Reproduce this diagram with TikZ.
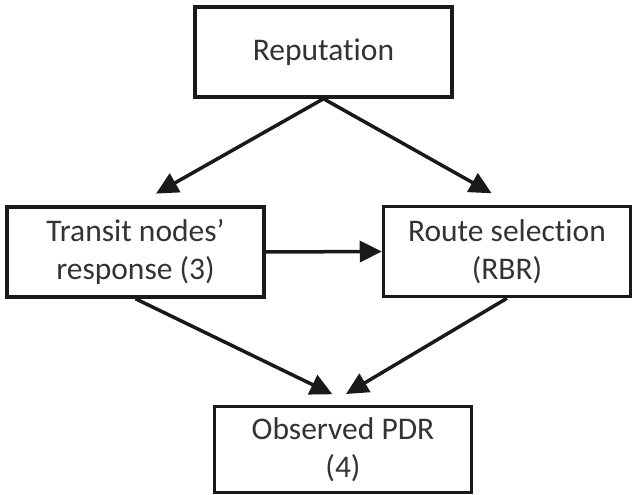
\documentclass[tikz,border=0pt]{standalone}
\usepackage{fontspec}
\setmainfont{Carlito}[RawFeature={-liga;-clig;-calt;-dlig}]
\usetikzlibrary{arrows.meta}

\begin{document}
\begin{tikzpicture}[>={Triangle[length=22pt,width=21pt]},x=1pt,y=-1pt,
 font=\fontsize{31.5}{38}\selectfont,
 box/.style={draw=black!90,line width=3.5pt,align=center,inner sep=0pt,text=black!80,minimum width=257pt,minimum height=90pt},
 arr/.style={->,draw=black!90,line width=3.5pt}]
\useasboundingbox (0,0) rectangle (633,495);
\node[box] (rep) at (323.5,52) {Reputation};
\node[box] (transit) at (135.5,252) {Transit nodes’\\response (3)};
\node[box,minimum width=247pt] (route) at (507,251.5) {Route selection\\(RBR)};
\node[box,minimum height=86pt] (obs) at (343,449.5) {Observed PDR\\(4)};
\draw[arr,shorten >=23.6pt] (rep.south) -- (transit.north);
\draw[arr,shorten >=23.4pt] (rep.south) -- ([xshift=5pt]route.north);
\draw[arr] (transit.east) -- (route.west);
\draw[arr,shorten >=24pt] (transit.south) -- ([xshift=11pt]obs.north);
\draw[arr,shorten >=21pt] (route.south) -- ([xshift=-15pt]obs.north);
\end{tikzpicture}
\end{document}
